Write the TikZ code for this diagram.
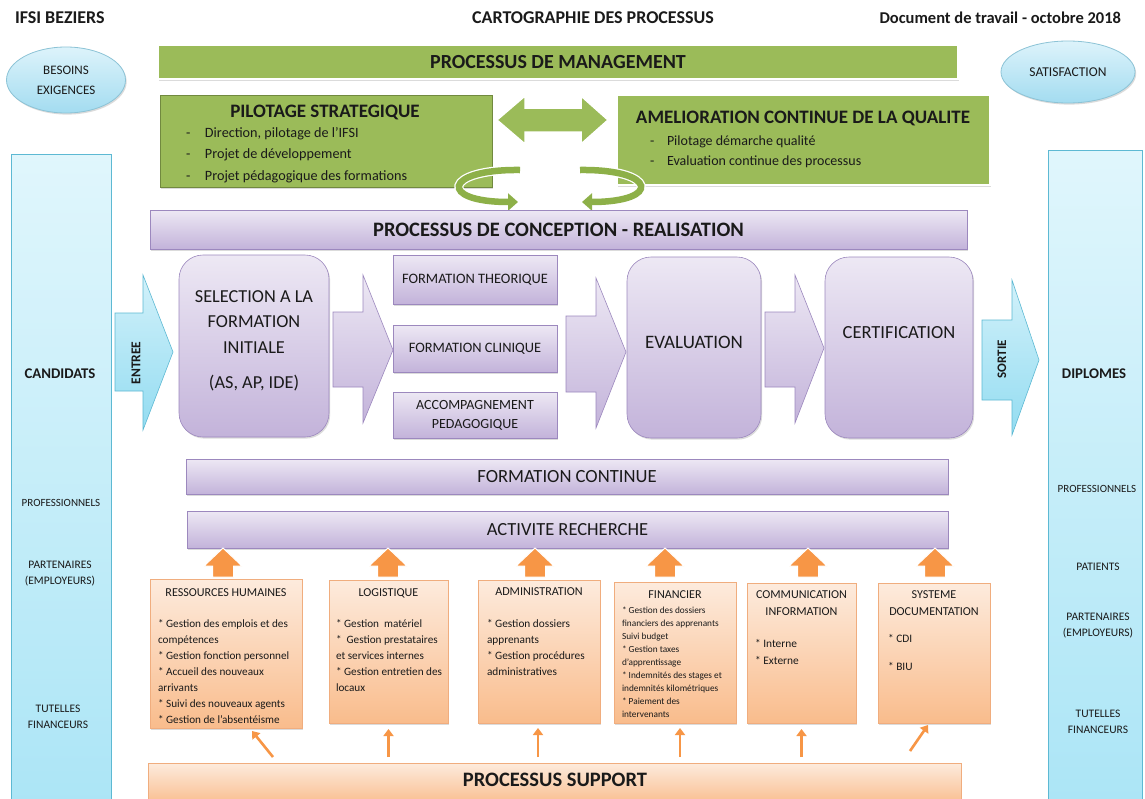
\documentclass[tikz,border=0pt]{standalone}
\usepackage{fontspec}
\setmainfont{Carlito}
\usetikzlibrary{shadows,arrows.meta,calc,shapes.geometric}
\definecolor{mgreen}{HTML}{9BBB59}
\definecolor{dgreen}{HTML}{71893F}
\definecolor{ringg}{HTML}{8DB048}
\definecolor{ptop}{HTML}{EDE8F4}
\definecolor{pbot}{HTML}{C3B3DA}
\definecolor{pbrd}{HTML}{9C88BE}
\definecolor{btop}{HTML}{E0F6FC}
\definecolor{bbot}{HTML}{ABE5F6}
\definecolor{bbrd}{HTML}{5DB9D3}
\definecolor{btopa}{HTML}{D2F1FA}
\definecolor{bbota}{HTML}{93DCF1}
\definecolor{etop}{HTML}{DDF3FB}
\definecolor{ebot}{HTML}{A3DCF0}
\definecolor{ebrd}{HTML}{8CC3D6}
\definecolor{otop}{HTML}{FDEBDD}
\definecolor{obot}{HTML}{F9BC8C}
\definecolor{obrd}{HTML}{F0AD7E}
\definecolor{oarr}{HTML}{F79646}
\definecolor{txt}{HTML}{1A1A1A}
\newcommand\fsz[2]{\fontsize{#1pt}{#2pt}\selectfont}
\newcommand\oarrowup[1]{\draw[oup] (#1,548) -- (#1+19,566) -- (#1+10.5,566) -- (#1+10.5,577) -- (#1-10.5,577) -- (#1-10.5,566) -- (#1-19,566) -- cycle;}
\tikzset{
  every node/.style={text=txt, inner sep=0pt, outer sep=0pt},
  shad/.style={drop shadow={opacity=0.28, shadow xshift=1.2pt, shadow yshift=-1.6pt}},
  gbar/.style={shad, fill=mgreen, draw=white, line width=1.2pt},
  gbox/.style={shad, fill=mgreen, draw=dgreen, line width=1pt},
  gboxb/.style={shad, fill=mgreen, draw=white, line width=1.2pt},
  gdarr/.style={fill=mgreen, draw=white, line width=1.5pt},
  pbox/.style={shad, top color=ptop, bottom color=pbot, draw=pbrd, line width=0.6pt},
  prnd/.style={pbox, rounded corners=24pt},
  bcol/.style={top color=btop, bottom color=bbot, draw=bbrd, line width=0.8pt},
  bell/.style={ellipse, shad, top color=etop, bottom color=ebot, draw=ebrd, line width=0.8pt},
  obox/.style={shad, top color=otop, bottom color=obot, draw=obrd, line width=0.6pt},
  parr/.style={top color=ptop, bottom color=pbot, draw=pbrd, line width=0.6pt},
  barr/.style={top color=btopa, bottom color=bbota, draw=bbrd, line width=0.6pt},
  oup/.style={fill=oarr, draw=white, line width=1pt},
  tarr/.style={draw=oarr, line width=2.6pt, -{Triangle[length=7pt,width=10pt]}},
  gring/.style={draw=ringg, line width=6.5pt, -{Triangle[length=10pt,width=17pt]}},
  gringw/.style={draw=white, line width=9pt},
  hdr/.style={font=\fsz{16.5}{19}\bfseries},
  hdrb/.style={font=\fsz{18}{20}\bfseries},
}
\begin{document}
\begin{tikzpicture}[x=1pt,y=-1pt]
\useasboundingbox (0,0) rectangle (1145,798);
\clip (0,0) rectangle (1145,798);
\fill[white] (0,0) rectangle (1145,798);

% header
\node[hdrb, anchor=west] (hl) at (15,18) {IFSI BEZIERS};
\node[hdrb] (hc) at (593,18) {CARTOGRAPHIE DES PROCESSUS};
\node[hdr, anchor=east] (hr) at (1121,18) {Document de travail - octobre 2018};

% ellipses
\node[bell, minimum width=119pt, minimum height=66pt, font=\fsz{13}{20}, align=center] (bes) at (66,80) {BESOINS\\EXIGENCES};
\node[bell, minimum width=134pt, minimum height=62pt, font=\fsz{13.5}{15}] (sat) at (1068,72) {SATISFACTION};

% side columns
\node[bcol, minimum width=100pt, minimum height=660pt, anchor=north west] (lcol) at (11,154) {};
\node[bcol, minimum width=94pt, minimum height=660pt, anchor=north west] (rcol) at (1048,150) {};
\node[font=\fsz{14.8}{17}\bfseries] (cand) at (60,374) {CANDIDATS};
\node[font=\fsz{11}{13}] (lpro) at (61,503) {PROFESSIONNELS};
\node[font=\fsz{11.5}{16}, align=center] (lpar) at (60,574) {PARTENAIRES\\(EMPLOYEURS)};
\node[font=\fsz{11.5}{16}, align=center] (ltut) at (58,717) {TUTELLES\\FINANCEURS};
\node[font=\fsz{14.8}{17}\bfseries] (dipl) at (1094,374) {DIPLOMES};
\node[font=\fsz{11}{13}] (rpro) at (1097,489) {PROFESSIONNELS};
\node[font=\fsz{11.5}{13}] (rpat) at (1098,567) {PATIENTS};
\node[font=\fsz{11.5}{16}, align=center] (rpar) at (1098,626) {PARTENAIRES\\(EMPLOYEURS)};
\node[font=\fsz{11.5}{16}, align=center] (rtut) at (1098,722) {TUTELLES\\FINANCEURS};

% management
\node[gbar, minimum width=800pt, minimum height=34pt, font=\fsz{20}{22}\bfseries] (mgmt) at (558,62) {PROCESSUS DE MANAGEMENT};
\node[gbox, minimum width=332pt, minimum height=92pt] (pil) at (326,141) {};
\node[font=\fsz{19}{21}\bfseries] (pilt) at (325,112) {PILOTAGE STRATEGIQUE};
\node[font=\fsz{14.2}{21.5}, align=left, anchor=base west] (pili) at (186,180) {\makebox[19pt][l]{-}Direction, pilotage de l’IFSI\\\makebox[19pt][l]{-}Projet de développement\\\makebox[19pt][l]{-}Projet pédagogique des formations};
\path[gdarr] (497,120) -- (525,96) -- (525,108) -- (581,108) -- (581,96) -- (608,120) -- (581,144) -- (581,132) -- (525,132) -- (525,144) -- cycle;
\node[gboxb, minimum width=373pt, minimum height=90pt] (ame) at (803.5,140) {};
\node[font=\fsz{19}{21}\bfseries] (amet) at (803,118) {AMELIORATION CONTINUE DE LA QUALITE};
\node[font=\fsz{14}{20}, align=left, anchor=base west] (amei) at (650,165) {\makebox[17pt][l]{-}Pilotage démarche qualité\\\makebox[17pt][l]{-}Evaluation continue des processus};

% rings
\draw[gringw] (520,170) .. controls (443,169) and (438,202) .. (508,202);
\draw[gring] (520,170) .. controls (443,169) and (438,202) .. (518,202);
\draw[gringw] (580,170) .. controls (657,169) and (662,202) .. (592,202);
\draw[gring] (580,170) .. controls (657,169) and (662,202) .. (582,202);

% conception
\node[pbox, minimum width=817pt, minimum height=39pt, font=\fsz{20.5}{22}\bfseries] (conc) at (558.5,229.5) {PROCESSUS DE CONCEPTION - REALISATION};

\path[barr] (115,313) -- (143,313) -- (143,275) -- (173,352) -- (143,430) -- (143,391) -- (115,391) -- cycle;
\node[font=\fsz{13.5}{15}\bfseries, rotate=90] (ent) at (136,363) {ENTREE};

\node[prnd, minimum width=150pt, minimum height=182pt] (sel) at (254,346) {};
\node[font=\fsz{18.3}{25.5}, align=center] (selt) at (254,341) {SELECTION A LA\\FORMATION\\INITIALE\\[10pt](AS, AP, IDE)};

\path[parr] (333,312) -- (363,312) -- (363,275) -- (393,350) -- (363,423) -- (363,387) -- (333,387) -- cycle;

\node[pbox, minimum width=164pt, minimum height=49pt, font=\fsz{14.4}{16}] (fth) at (475,279.5) {FORMATION THEORIQUE};
\node[pbox, minimum width=164pt, minimum height=47pt, font=\fsz{14.4}{16}] (fcl) at (475,348.5) {FORMATION CLINIQUE};
\node[pbox, minimum width=164pt, minimum height=46pt, font=\fsz{14}{19}, align=center] (acc) at (475,415) {ACCOMPAGNEMENT\\PEDAGOGIQUE};

\path[parr] (566,316) -- (596,316) -- (596,278) -- (626,352) -- (596,428) -- (596,392) -- (566,392) -- cycle;
\node[prnd, minimum width=134pt, minimum height=181pt] (eva) at (694,347.5) {};
\node[font=\fsz{19}{21}] (evat) at (694,342) {EVALUATION};
\path[parr] (765,312) -- (795,312) -- (795,275) -- (824,348) -- (795,423) -- (795,387) -- (765,387) -- cycle;
\node[prnd, minimum width=148pt, minimum height=181pt] (cer) at (899,347.5) {};
\node[font=\fsz{18.5}{21}] (cert) at (899,333) {CERTIFICATION};
\path[barr] (982,320) -- (1012,320) -- (1012,280) -- (1039,360) -- (1012,435) -- (1012,400) -- (982,400) -- cycle;
\node[font=\fsz{13}{15}\bfseries, rotate=90] (sor) at (1002,359) {SORTIE};

\node[pbox, minimum width=762pt, minimum height=35pt, font=\fsz{18.6}{21}] (fc) at (567,476.5) {FORMATION CONTINUE};
\node[pbox, minimum width=761pt, minimum height=37pt, font=\fsz{18.5}{21}] (ar) at (567.5,529.5) {ACTIVITE RECHERCHE};

% up arrows
\oarrowup{223}
\oarrowup{388}
\oarrowup{535}
\oarrowup{665}
\oarrowup{808}
\oarrowup{935}

% support boxes
\node[obox, minimum width=152pt, minimum height=149pt] (rh) at (226,653.5) {};
\node[font=\fsz{12.1}{14}] (rht) at (226,593) {RESSOURCES HUMAINES};
\node[font=\fsz{11.2}{16}, align=left, anchor=base west] (rhi) at (158,723.5) {* Gestion des emplois et des\\compétences\\* Gestion fonction personnel\\* Accueil des nouveaux\\arrivants\\* Suivi des nouveaux agents\\* Gestion de l’absentéisme};

\node[obox, minimum width=119pt, minimum height=143pt] (log) at (388.5,651.5) {};
\node[font=\fsz{12.1}{14}] (logt) at (388.5,593) {LOGISTIQUE};
\node[font=\fsz{11.2}{16}, align=left, anchor=base west] (logi) at (336,691.5) {* Gestion\ \ matériel\\*\ \ Gestion prestataires\\et services internes\\* Gestion entretien des\\locaux};

\node[obox, minimum width=122pt, minimum height=143pt] (adm) at (539,651.5) {};
\node[font=\fsz{12.1}{14}] (admt) at (539,592) {ADMINISTRATION};
\node[font=\fsz{11.3}{16}, align=left, anchor=base west] (admi) at (487,675.5) {* Gestion dossiers\\apprenants\\* Gestion procédures\\administratives};

\node[obox, minimum width=122pt, minimum height=141pt] (fin) at (675,652.5) {};
\node[font=\fsz{12.1}{14}] (fint) at (675,595) {FINANCIER};
\node[font=\fsz{9.3}{12.9}, align=left, anchor=base west] (fini) at (622,717) {* Gestion des dossiers\\financiers des apprenants\\Suivi budget\\* Gestion taxes\\d’apprentissage\\* Indemnités des stages et\\indemnités kilométriques\\* Paiement des\\intervenants};

\node[obox, minimum width=109pt, minimum height=140pt] (com) at (801.5,653) {};
\node[font=\fsz{12.1}{17}, align=center] (comt) at (801.5,603.5) {COMMUNICATION\\INFORMATION};
\node[font=\fsz{11.4}{17}, align=left, anchor=base west] (comi) at (755,664.5) {* Interne\\* Externe};

\node[obox, minimum width=112pt, minimum height=140pt] (sd) at (934,653) {};
\node[font=\fsz{12.1}{17}, align=center] (sdt) at (934,603.5) {SYSTEME\\DOCUMENTATION};
\node[font=\fsz{11.4}{28}, align=left, anchor=base west] (sdi) at (888,670.5) {* CDI\\* BIU};

% support bar
\node[obox, minimum width=813pt, minimum height=42pt] (sup) at (554.5,784) {};
\node[font=\fsz{20.5}{22}\bfseries] (supt) at (555,780) {PROCESSUS SUPPORT};

% thin arrows
\draw[tarr] ($(rh.south)+(47,29)$) -- ($(rh.south)+(26,3)$);
\draw[tarr] ($(log.south)+(0,34)$) -- ($(log.south)+(0,6)$);
\draw[tarr] ($(adm.south)+(-1,34)$) -- ($(adm.south)+(-1,5)$);
\draw[tarr] ($(fin.south)+(5,34)$) -- ($(fin.south)+(5,5)$);
\draw[tarr] ($(com.south)+(0,34)$) -- ($(com.south)+(0,6)$);
\draw[tarr] ($(sd.south)+(-24,28)$) -- ($(sd.south)+(-6,2)$);
\end{tikzpicture}
\end{document}
